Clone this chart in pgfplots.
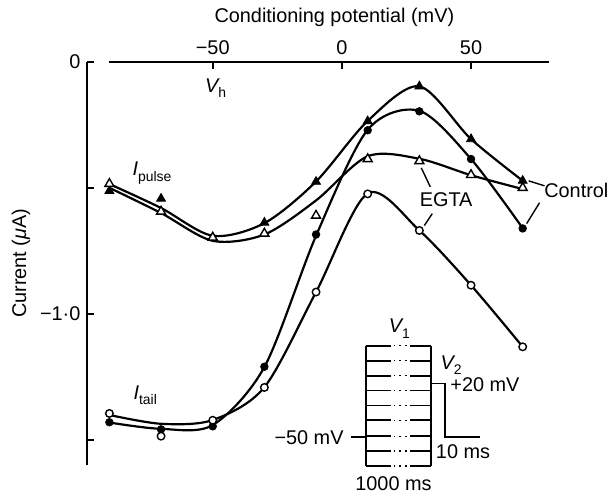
\documentclass[border=0pt]{standalone}
\usepackage{fontspec}
\setmainfont{Liberation Sans}
\usepackage{pgfplots}
\pgfplotsset{compat=1.18}
\begin{document}
\begin{tikzpicture}
\fontsize{10}{12}\selectfont
\begin{scope}[shift={(0pt,246.5pt)},x=0.5pt,y=-0.5pt]
\path[use as bounding box] (0,0) rectangle (615,493);
\end{scope}
\begin{axis}[
  at={(44pt,12.3pt)}, anchor=south west, scale only axis,
  width=232pt, height=203.2pt,
  xmin=-98.5, xmax=80, ymin=-1.6, ymax=0,
  axis x line*=top, axis y line*=left,
  x axis line style={draw=none},
  y axis line style={line width=1pt,-},
  xtick={-50,0,50}, xticklabels={−50,0,50},
  ytick={0,-0.5,-1,-1.5}, yticklabels={0,,−1·0,},
  tick align=inside,
  major tick length=3.5pt,
  every tick/.style={black, line width=0.9pt},
  tick label style={font=\fontsize{10}{12}\selectfont},
  clip=false,
]
% axis line on top
\draw[line width=1pt] (axis cs:-90,0) -- (axis cs:80,0);
% curves
\addplot[black, smooth, line width=1.1pt] coordinates {
(-90,-0.485) (-70,-0.58) (-50,-0.69) (-30,-0.64) (-10,-0.475) (10,-0.235) (30,-0.098) (50,-0.307) (70,-0.472)};
\addplot[black, smooth, line width=1.1pt] coordinates {
(-90,-0.50) (-70,-0.60) (-50,-0.71) (-30,-0.685) (-10,-0.55) (10,-0.375) (30,-0.385) (50,-0.45) (70,-0.505)};
\addplot[black, smooth, line width=1.1pt] coordinates {
(-90,-1.43) (-70,-1.455) (-50,-1.44) (-30,-1.21) (-10,-0.69) (10,-0.27) (30,-0.195) (50,-0.386) (70,-0.66)};
\addplot[black, smooth, line width=1.1pt] coordinates {
(-90,-1.40) (-70,-1.435) (-50,-1.42) (-30,-1.29) (-10,-0.913) (10,-0.522) (30,-0.669) (50,-0.886) (70,-1.13)};
% markers
\addplot[only marks, mark=triangle*, mark size=2.6pt, mark options={draw=black, fill=black}] coordinates {
(-90,-0.512) (-70,-0.543) (-50,-0.697) (-30,-0.638) (-10,-0.476) (10,-0.236) (30,-0.098) (50,-0.307) (70,-0.472)};
\addplot[only marks, mark=triangle*, mark size=2.6pt, mark options={draw=black, fill=white, line width=0.7pt}] coordinates {
(-90,-0.484) (-70,-0.594) (-50,-0.697) (-30,-0.681) (-10,-0.610) (10,-0.386) (30,-0.394) (50,-0.449) (70,-0.500)};
\addplot[only marks, mark=*, mark size=1.9pt, mark options={draw=black, fill=black}] coordinates {
(-90,-1.429) (-70,-1.457) (-50,-1.445) (-30,-1.209) (-10,-0.685) (10,-0.272) (30,-0.197) (50,-0.386) (70,-0.661)};
\addplot[only marks, mark=*, mark size=1.9pt, mark options={draw=black, fill=white, line width=0.7pt}] coordinates {
(-90,-1.394) (-70,-1.484) (-50,-1.421) (-30,-1.291) (-10,-0.913) (10,-0.524) (30,-0.669) (50,-0.886) (70,-1.130)};
\end{axis}
\begin{scope}[shift={(0pt,246.5pt)},x=0.5pt,y=-0.5pt]
\node at (336.5,17) {Conditioning potential (mV)};
\node[rotate=90] at (21,265) {Current ({\itshape μ}A)};
\node[anchor=base west, inner sep=0] at (206,93) {{\itshape V}\raisebox{-0.5ex}{\fontsize{7}{8}\selectfont h}};
\node[anchor=base west, inner sep=0] at (133,177) {{\itshape I}\raisebox{-0.5ex}{\fontsize{7}{8}\selectfont pulse}};
\node[anchor=base west, inner sep=0] at (134,402) {{\itshape I}\raisebox{-0.5ex}{\fontsize{7}{8}\selectfont tail}};
\node at (449,201) {EGTA};
\node at (580,192) {Control};
\draw[line width=0.7pt] (433,188) -- (424,169);
\draw[line width=0.7pt] (435,215) -- (427,227);
\draw[line width=0.7pt] (548,187) -- (532,182);
\draw[line width=0.7pt] (543,204) -- (530,225);
% inset protocol
\draw[line width=0.9pt] (368,348) -- (368,469);
\draw[line width=0.9pt] (434,348) -- (434,469);
\foreach \yy in {348,363,378,393,408,423,439,454,469} {
  \draw[line width=0.9pt] (368,\yy) -- (393,\yy);
  \draw[line width=0.9pt] (413,\yy) -- (434,\yy);
  \draw[line width=0.7pt, dash pattern=on 0.7pt off 2.3pt] (396,\yy) -- (411,\yy);
}
\draw[line width=0.9pt] (434,386) -- (448,386) -- (448,440) -- (483,440);
\draw[line width=0.9pt] (353,440) -- (368,440);
\node[anchor=base west, inner sep=0] at (391,335) {{\itshape V}\raisebox{-0.5ex}{\fontsize{7}{8}\selectfont 1}};
\node[anchor=base west, inner sep=0] at (443,372) {{\itshape V}\raisebox{-0.5ex}{\fontsize{7}{8}\selectfont 2}};
\node at (488,387) {+20 mV};
\node at (466,455) {10 ms};
\node at (396,487) {1000 ms};
\node at (311,440) {−50 mV};
\end{scope}
\end{tikzpicture}
\end{document}
